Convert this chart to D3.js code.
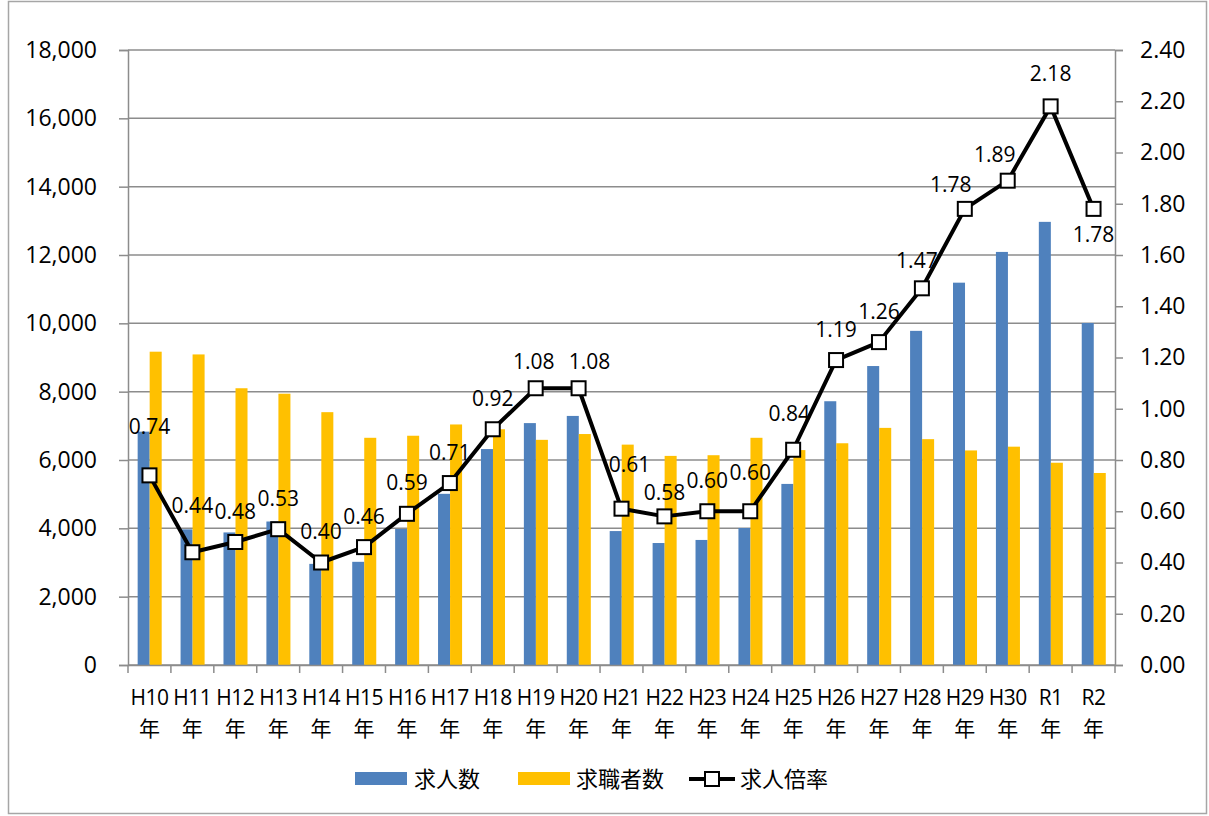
<!DOCTYPE html>
<html>
<head>
<meta charset="utf-8">
<script src="https://cdn.jsdelivr.net/npm/d3@7"></script>
<style>
  body { margin: 0; background: #fff; }
  text { font-family: "Open Sans", "Noto Sans CJK JP", sans-serif; fill: #000; }
</style>
</head>
<body>
<script>
  var width = 1209;
  var height = 816;

  var categories = ['H10','H11','H12','H13','H14','H15','H16','H17','H18','H19','H20',
    'H21','H22','H23','H24','H25','H26','H27','H28','H29','H30','R1','R2'];

  // 求人数
  var openings = [6830, 3970, 3880, 4200, 2960, 3020, 3980, 5010, 6320, 7080, 7290,
    3920, 3570, 3660, 4010, 5300, 7720, 8750, 9780, 11190, 12090, 12970, 10010];
  // 求職者数
  var seekers = [9170, 9090, 8100, 7940, 7400, 6650, 6710, 7040, 6900, 6590, 6760,
    6450, 6120, 6140, 6650, 6290, 6490, 6940, 6610, 6280, 6390, 5920, 5620];
  // 求人倍率
  var ratio = [0.74, 0.44, 0.48, 0.53, 0.40, 0.46, 0.59, 0.71, 0.92, 1.08, 1.08,
    0.61, 0.58, 0.60, 0.60, 0.84, 1.19, 1.26, 1.47, 1.78, 1.89, 2.18, 1.78];

  var seriesNames = ['求人数', '求職者数', '求人倍率'];
  var blue = '#4f81bd';
  var yellow = '#ffc000';

  // label nudges (dx, dy from the marker), default is straight above
  var labelNudge = {
    H10: [0, -49], H11: [0, -47], H19: [-2, -27], H20: [11, -27], H21: [8, -44],
    H22: [0, -24], H24: [0, -39], H25: [-4, -36], H28: [-5, -28], H29: [-14, -24],
    H30: [-13, -26], R1: [0, -33], R2: [0, 26]
  };

  var plotL = 128, plotR = 1115, plotT = 50, plotB = 665;

  var svg = d3.select("body")
    .append("svg")
    .attr("width", width)
    .attr("height", height);

  // outer frame
  svg.append("rect")
    .attr("x", 8.5).attr("y", 1.5)
    .attr("width", 1198).attr("height", 812)
    .style("fill", "none")
    .style("stroke", "#a6a6a6")
    .style("stroke-width", 1.5);

  var x = d3.scaleBand()
    .domain(categories)
    .range([plotL, plotR]);

  var bw = x.bandwidth();
  var x1 = d3.scaleBand()
    .domain([0, 1])
    .range([bw * 0.225, bw * 0.785]);

  var y = d3.scaleLinear().domain([0, 18000]).range([plotB, plotT]);
  var y2 = d3.scaleLinear().domain([0, 2.4]).range([plotB, plotT]);

  // gridlines
  svg.append("g")
    .selectAll("line")
    .data(y.ticks(9))
    .enter()
    .append("line")
    .attr("x1", plotL).attr("x2", plotR)
    .attr("y1", function(d) { return y(d); })
    .attr("y2", function(d) { return y(d); })
    .style("stroke", "#8c8c8c")
    .style("stroke-width", 1.5);

  // bars
  var rows = categories.map(function(c, i) { return { cat: c, vals: [openings[i], seekers[i]] }; });
  var grp = svg.append("g")
    .selectAll("g")
    .data(rows)
    .enter()
    .append("g")
    .attr("transform", function(d) { return "translate(" + x(d.cat) + ",0)"; });

  grp.selectAll("rect")
    .data(function(d) { return d.vals; })
    .enter()
    .append("rect")
    .attr("x", function(d, i) { return x1(i); })
    .attr("width", x1.bandwidth())
    .attr("y", function(d) { return y(d); })
    .attr("height", function(d) { return plotB - y(d); })
    .style("fill", function(d, i) { return i == 0 ? blue : yellow; });

  // axes
  var yAxis = d3.axisLeft(y).ticks(9).tickSize(9).tickPadding(22).tickFormat(d3.format(","));
  var gl = svg.append("g")
    .attr("transform", "translate(" + plotL + ",0)")
    .call(yAxis);

  var yAxis2 = d3.axisRight(y2).tickValues(d3.range(0, 2.41, 0.2)).tickSize(8).tickPadding(17).tickFormat(d3.format(".2f"));
  var gr = svg.append("g")
    .attr("transform", "translate(" + plotR + ",0)")
    .call(yAxis2);

  var xAxis = d3.axisBottom(x).tickSize(0).tickFormat("");
  var gx = svg.append("g")
    .attr("transform", "translate(0," + plotB + ")")
    .call(xAxis);

  gx.selectAll(".tick").remove();
  gx.selectAll(".bt")
    .data(categories.concat(["end"]))
    .enter()
    .append("line")
    .attr("class", "bt")
    .attr("x1", function(d, i) { return plotL + i * bw; })
    .attr("x2", function(d, i) { return plotL + i * bw; })
    .attr("y1", 0).attr("y2", 8)
    .style("stroke", "#8c8c8c")
    .style("stroke-width", 1.5);

  [gl, gr, gx].forEach(function(g) {
    g.select(".domain").style("stroke", "#8c8c8c").style("stroke-width", 1.5);
    g.selectAll(".tick line").style("stroke", "#8c8c8c").style("stroke-width", 1.5);
    g.selectAll("text").style("font-size", "23px").style("font-family", "'Open Sans', sans-serif").attr("fill", "#000");
  });

  // category labels, two lines
  var cl = svg.append("g")
    .selectAll("text")
    .data(categories)
    .enter()
    .append("text")
    .attr("text-anchor", "middle")
    .style("font-size", "21px");
  cl.append("tspan")
    .attr("x", function(d) { return x(d) + bw / 2; })
    .attr("y", 705)
    .style("letter-spacing", "-0.5px")
    .text(function(d) { return d; });
  cl.append("tspan")
    .attr("x", function(d) { return x(d) + bw / 2; })
    .attr("y", 736)
    .style("font-family", "'Noto Sans CJK JP', sans-serif")
    .text("年");

  // ratio line
  var line = d3.line()
    .x(function(d, i) { return x(categories[i]) + bw / 2; })
    .y(function(d) { return y2(d); });

  svg.append("path")
    .datum(ratio)
    .attr("d", line)
    .style("fill", "none")
    .style("stroke", "#000")
    .style("stroke-width", 4)
    .style("stroke-linejoin", "round");

  svg.append("g")
    .selectAll("rect")
    .data(ratio)
    .enter()
    .append("rect")
    .attr("x", function(d, i) { return x(categories[i]) + bw / 2 - 7; })
    .attr("y", function(d) { return y2(d) - 7; })
    .attr("width", 14).attr("height", 14)
    .style("fill", "#fff")
    .style("stroke", "#000")
    .style("stroke-width", 2);

  svg.append("g")
    .selectAll("text")
    .data(ratio)
    .enter()
    .append("text")
    .attr("text-anchor", "middle")
    .attr("x", function(d, i) {
      var n = labelNudge[categories[i]] || [0, -31];
      return x(categories[i]) + bw / 2 + n[0];
    })
    .attr("y", function(d, i) {
      var n = labelNudge[categories[i]] || [0, -31];
      return y2(d) + n[1] + 7.5;
    })
    .style("font-size", "21px")
    .text(function(d) { return d3.format(".2f")(d); });

  // legend
  var lg = svg.append("g").attr("transform", "translate(0,779)");
  lg.append("rect").attr("x", 355).attr("y", -7).attr("width", 52).attr("height", 13).style("fill", blue);
  lg.append("text").attr("x", 414).attr("y", 8).style("font-size", "22px")
    .style("font-family", "'Noto Sans CJK JP', sans-serif").text(seriesNames[0]);
  lg.append("rect").attr("x", 518).attr("y", -7).attr("width", 52).attr("height", 13).style("fill", yellow);
  lg.append("text").attr("x", 576).attr("y", 8).style("font-size", "22px")
    .style("font-family", "'Noto Sans CJK JP', sans-serif").text(seriesNames[1]);
  lg.append("line").attr("x1", 689).attr("x2", 735).attr("y1", 0).attr("y2", 0)
    .style("stroke", "#000").style("stroke-width", 4);
  lg.append("rect").attr("x", 705).attr("y", -7).attr("width", 14).attr("height", 14)
    .style("fill", "#fff").style("stroke", "#000").style("stroke-width", 2);
  lg.append("text").attr("x", 740).attr("y", 8).style("font-size", "22px")
    .style("font-family", "'Noto Sans CJK JP', sans-serif").text(seriesNames[2]);
</script>
</body>
</html>
